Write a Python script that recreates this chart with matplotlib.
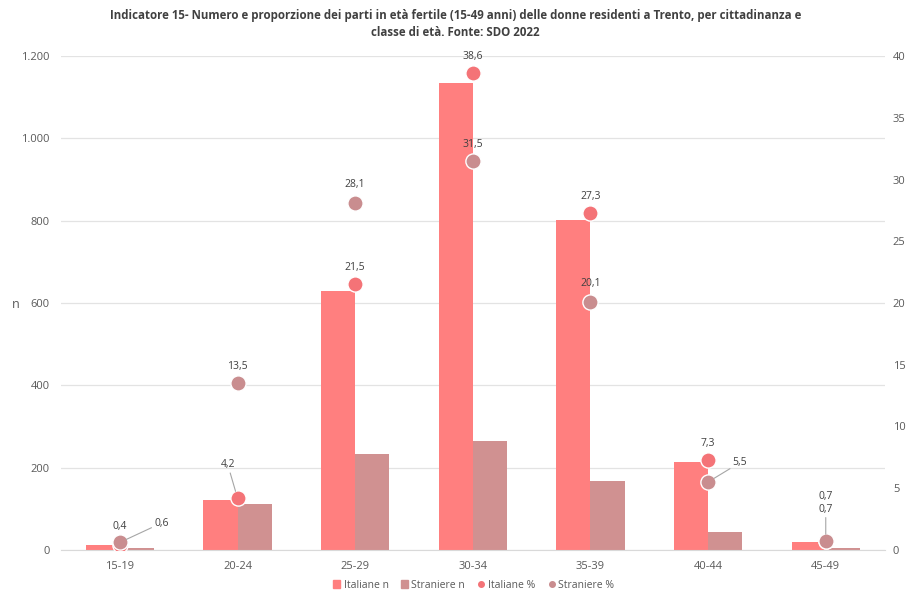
import matplotlib.pyplot as plt
import numpy as np
from matplotlib.lines import Line2D
from matplotlib.patches import Patch

plt.rcParams['font.family'] = ['Open Sans', 'DejaVu Sans']

classi = ["15-19", "20-24", "25-29", "30-34", "35-39", "40-44", "45-49"]
italiane_n = [12, 122, 630, 1135, 801, 214, 18]
straniere_n = [5, 112, 233, 265, 168, 44, 5]
italiane_pct = [0.4, 4.2, 21.5, 38.6, 27.3, 7.3, 0.7]
straniere_pct = [0.6, 13.5, 28.1, 31.5, 20.1, 5.5, 0.7]

col_ita = "#FF7F7F"
col_str = "#D09191"
col_ita_m = "#F47377"
col_str_m = "#C98D8F"
txt = "#595959"

fig = plt.figure(figsize=(9.11, 5.97), dpi=100)
ax = fig.add_axes([0.067, 0.079, 0.904, 0.827])
x = np.arange(len(classi))
w = 0.29

ax.bar(x - w/2, italiane_n, w, color=col_ita, zorder=2)
ax.bar(x + w/2, straniere_n, w, color=col_str, zorder=2)
ax.set_ylim(0, 1200)
ax.set_xlim(-0.5, 6.5)
ax.set_yticks(range(0, 1201, 200))
ax.set_yticklabels(["0", "200", "400", "600", "800", "1.000", "1.200"])
ax.set_xticks(x)
ax.set_xticklabels(classi)
ax.yaxis.grid(True, color="#E3E3E3", linewidth=0.9, zorder=0)
ax.set_axisbelow(True)
for s in ["top", "right", "left"]:
    ax.spines[s].set_visible(False)
ax.spines["bottom"].set_color("#D9D9D9")
ax.tick_params(length=0, labelsize=8, colors=txt, pad=8)
fig.text(12/911, 1 - 305/597, "n", fontsize=9, color=txt, va="center", ha="left")

ax2 = ax.twinx()
ax2.set_ylim(0, 40)
ax2.set_yticks(range(0, 41, 5))
for s in ax2.spines.values():
    s.set_visible(False)
ax2.tick_params(length=0, labelsize=8, colors=txt, pad=6)

ax2.scatter(x, italiane_pct, s=120, color=col_ita_m, edgecolor="white", linewidth=1, zorder=4)
ax2.scatter(x, straniere_pct, s=120, color=col_str_m, edgecolor="white", linewidth=1, zorder=5)

# label offsets in points (dx, dy), leader line or not
off_ita = [(0, 9, False), (-7, 20, True), (0, 8, False), (0, 8, False),
           (0, 8, False), (0, 8, False), (0, 19, True)]
off_str = [(30, 10, True), (0, 8, False), (0, 9, False), (0, 8, False),
           (0, 9, False), (23, 10, True), (0, 28, False)]

def etichetta(vals, offs):
    for i, (v, (dx, dy, lead)) in enumerate(zip(vals, offs)):
        kw = {}
        if lead:
            kw["arrowprops"] = dict(arrowstyle="-", color="#A6A6A6", lw=0.8,
                                    shrinkA=0, shrinkB=5)
        ax2.annotate(f"{v:.1f}".replace(".", ","), (i, v), xytext=(dx, dy),
                     textcoords="offset points", ha="center", va="bottom",
                     fontsize=7.5, color="#404040", zorder=6, **kw)

etichetta(italiane_pct, off_ita)
etichetta(straniere_pct, off_str)

fig.suptitle("Indicatore 15- Numero e proporzione dei parti in età fertile (15-49 anni) delle donne residenti a Trento, per cittadinanza e\nclasse di età. Fonte: SDO 2022",
             fontsize=8.3, fontweight="bold", color="#404040", y=0.985, linespacing=1.45)

handles = [Patch(color=col_ita), Patch(color=col_str),
           Line2D([], [], marker="o", color=col_ita_m, linestyle="", markersize=4),
           Line2D([], [], marker="o", color=col_str_m, linestyle="", markersize=4)]
fig.legend(handles, ["Italiane n", "Straniere n", "Italiane %", "Straniere %"],
           loc="lower center", ncol=4, frameon=False, fontsize=7.5,
           bbox_to_anchor=(0.52, -0.005), handlelength=0.7, handleheight=0.7,
           handletextpad=0.3, columnspacing=1.2, labelcolor=txt)

fig.savefig("out.png", dpi=100)
